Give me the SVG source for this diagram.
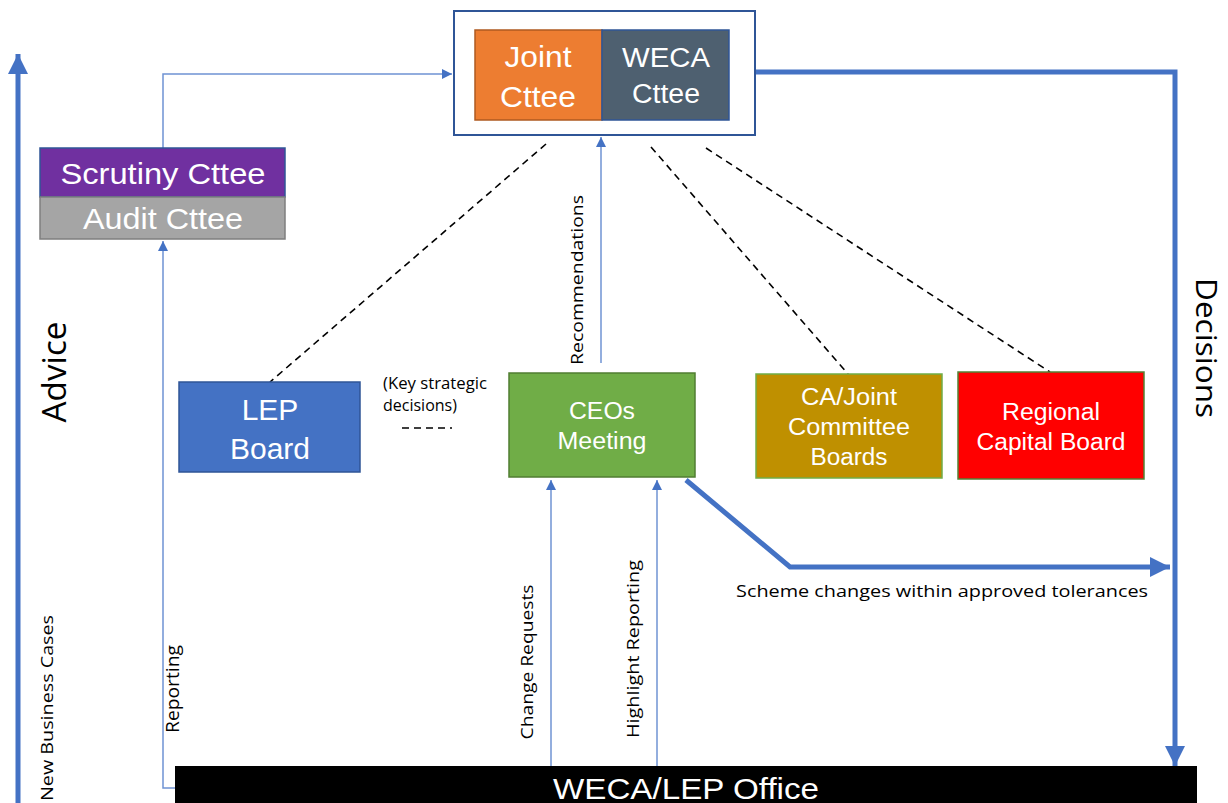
<svg xmlns="http://www.w3.org/2000/svg" width="1228" height="803" viewBox="0 0 1228 803">
<defs>
<style>
.t{font-family:"Liberation Sans",Arial,sans-serif;fill:#fff;text-anchor:middle}
.c{font-family:"Open Sans","Liberation Sans",sans-serif;fill:#000;text-anchor:middle}
.l{font-family:"Open Sans","Liberation Sans",sans-serif;fill:#000}
.thin{stroke:#6F93D3;stroke-width:1.5;fill:none}
.thick{stroke:#4472C4;stroke-width:5;fill:none}
.dash{stroke:#000;stroke-width:1.6;stroke-dasharray:7,5;fill:none}
</style>
<marker id="ah" viewBox="0 0 10 10" refX="10" refY="5" markerWidth="10" markerHeight="10" markerUnits="userSpaceOnUse" orient="auto"><path d="M0,0L10,5L0,10z" fill="#4472C4"/></marker>
<marker id="ahb" viewBox="0 0 10 10" refX="10" refY="5" markerWidth="4" markerHeight="4" orient="auto"><path d="M0,0L10,5L0,10z" fill="#4472C4"/></marker>
</defs>
<rect width="1228" height="803" fill="#fff"/>
<g id="connectors">
<path class="thick" d="M18,803V54" marker-end="url(#ahb)"/>
<path class="thin" d="M163,148V74H452" marker-end="url(#ah)"/>
<path class="thin" d="M175,788H163V241" marker-end="url(#ah)"/>
<path class="thin" d="M601,363V137" marker-end="url(#ah)"/>
<path class="thin" d="M551,766V480" marker-end="url(#ah)"/>
<path class="thin" d="M657,766V480" marker-end="url(#ah)"/>
<path class="thick" d="M755,72H1175V766" marker-end="url(#ahb)"/>
<path class="thick" d="M686,480L790,567H1170" marker-end="url(#ahb)"/>
<path class="dash" d="M546,144L270,382"/>
<path class="dash" d="M651,147L848,374"/>
<path class="dash" d="M706,148L1050,372"/>
<path class="dash" d="M402,428H452"/>
</g>
<g id="top">
<rect x="454" y="11" width="301" height="124" fill="#fff" stroke="#2F5597" stroke-width="2"/>
</g>
<g id="joint">
<rect x="475" y="30" width="127" height="90" fill="#ED7D31" stroke="#AE5A21" stroke-width="1.5"/>
<text class="t" x="538" y="67" font-size="30" textLength="67" lengthAdjust="spacingAndGlyphs">Joint</text>
<text class="t" x="538" y="107" font-size="30" textLength="76" lengthAdjust="spacingAndGlyphs">Cttee</text>
</g>
<g id="weca">
<rect x="602" y="30" width="127" height="90" fill="#4E6070" stroke="#2F5597" stroke-width="1.5"/>
<text class="t" x="666" y="67" font-size="27" textLength="88" lengthAdjust="spacingAndGlyphs">WECA</text>
<text class="t" x="666" y="103" font-size="27" textLength="68" lengthAdjust="spacingAndGlyphs">Cttee</text>
</g>
<g id="scrutiny">
<rect x="40" y="148" width="245" height="49" fill="#7030A0" stroke="#2F5597" stroke-width="1.5"/>
<text class="t" x="163" y="184" font-size="29" textLength="205" lengthAdjust="spacingAndGlyphs">Scrutiny Cttee</text>
</g>
<g id="audit">
<rect x="40" y="197" width="245" height="42" fill="#A5A5A5" stroke="#7F7F7F" stroke-width="1.5"/>
<text class="t" x="163" y="229" font-size="29" textLength="160" lengthAdjust="spacingAndGlyphs">Audit Cttee</text>
</g>
<g id="lep">
<rect x="179" y="382" width="181" height="90" fill="#4472C4" stroke="#2F5597" stroke-width="1.5"/>
<text class="t" x="270" y="420" font-size="30">LEP</text>
<text class="t" x="270" y="459" font-size="30">Board</text>
</g>
<g id="keynote">
<text class="l" x="383" y="389" font-size="16" textLength="104" lengthAdjust="spacingAndGlyphs">(Key strategic</text>
<text class="l" x="383" y="411" font-size="16">decisions)</text>
</g>
<g id="ceos">
<rect x="509" y="373" width="186" height="104" fill="#70AD47" stroke="#507E32" stroke-width="1.5"/>
<text class="t" x="602" y="419" font-size="23" textLength="66" lengthAdjust="spacingAndGlyphs">CEOs</text>
<text class="t" x="602" y="449" font-size="23" textLength="89" lengthAdjust="spacingAndGlyphs">Meeting</text>
</g>
<g id="ca">
<rect x="756" y="374" width="186" height="104" fill="#BF9000" stroke="#70AD47" stroke-width="1.5"/>
<text class="t" x="849" y="405" font-size="23" textLength="96" lengthAdjust="spacingAndGlyphs">CA/Joint</text>
<text class="t" x="849" y="435" font-size="23" textLength="122" lengthAdjust="spacingAndGlyphs">Committee</text>
<text class="t" x="849" y="465" font-size="23" textLength="77" lengthAdjust="spacingAndGlyphs">Boards</text>
</g>
<g id="regional">
<rect x="958" y="372" width="186" height="107" fill="#FF0000" stroke="#548235" stroke-width="1.5"/>
<text class="t" x="1051" y="420" font-size="23" textLength="98" lengthAdjust="spacingAndGlyphs">Regional</text>
<text class="t" x="1051" y="450" font-size="23" textLength="149" lengthAdjust="spacingAndGlyphs">Capital Board</text>
</g>
<g id="office">
<rect x="175" y="766" width="1022" height="40" fill="#000"/>
<text class="t" x="686" y="799" font-size="30" textLength="266" lengthAdjust="spacingAndGlyphs">WECA/LEP Office</text>
</g>
<g id="labels">
<text class="c" transform="translate(66,372) rotate(-90)" font-size="32" textLength="101" lengthAdjust="spacingAndGlyphs">Advice</text>
<text class="c" transform="translate(53,708) rotate(-90)" font-size="17" textLength="186" lengthAdjust="spacingAndGlyphs">New Business Cases</text>
<text class="c" transform="translate(179,689) rotate(-90)" font-size="18" textLength="88" lengthAdjust="spacingAndGlyphs">Reporting</text>
<text class="c" transform="translate(583,280) rotate(-90)" font-size="17" textLength="170" lengthAdjust="spacingAndGlyphs">Recommendations</text>
<text class="c" transform="translate(533,662) rotate(-90)" font-size="17" textLength="155" lengthAdjust="spacingAndGlyphs">Change Requests</text>
<text class="c" transform="translate(639,649) rotate(-90)" font-size="17" textLength="178" lengthAdjust="spacingAndGlyphs">Highlight Reporting</text>
<text class="c" x="942" y="597" font-size="17" textLength="412" lengthAdjust="spacingAndGlyphs">Scheme changes within approved tolerances</text>
<text class="c" transform="translate(1196,348) rotate(90)" font-size="30" textLength="140" lengthAdjust="spacingAndGlyphs">Decisions</text>
</g>
</svg>
